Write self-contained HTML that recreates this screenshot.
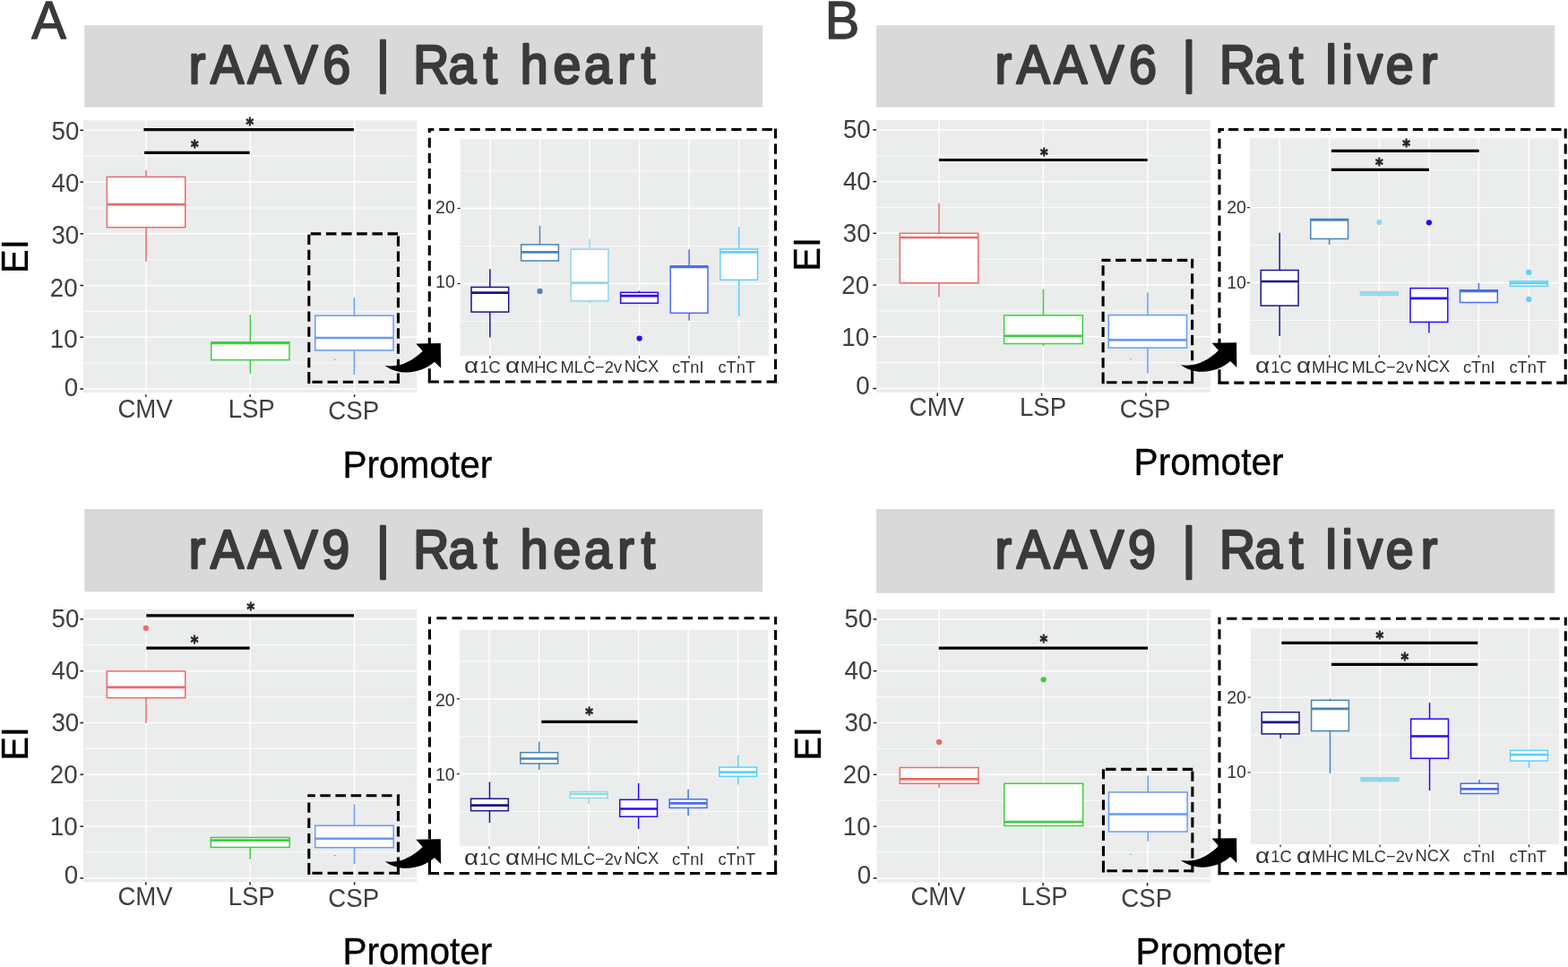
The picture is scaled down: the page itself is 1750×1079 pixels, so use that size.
<!DOCTYPE html>
<html lang="en"><head><meta charset="utf-8"><title>Promoter EI boxplots</title>
<style>html,body{margin:0;padding:0;background:#ffffff;}body{width:1750px;height:1079px;overflow:hidden;}svg{display:block;filter:blur(0.5px);}text{font-family:'Liberation Sans',Arial,Helvetica,sans-serif;}.st{font-family:'DejaVu Sans','Liberation Sans',sans-serif;font-weight:bold;}</style>
</head><body>
<svg width="1750" height="1079" viewBox="0 0 1750 1079" role="img" aria-label="Expression index boxplots by promoter for rAAV6 and rAAV9 in rat heart and liver">
<rect x="0" y="0" width="1750" height="1079" fill="#ffffff"/>
<text transform="translate(35.2 42.9) scale(0.964 1)" font-size="60" fill="#3a3a3a" stroke="#3a3a3a" stroke-width="1.4" stroke-linejoin="round">A</text>
<text transform="translate(920.8 42.9) scale(0.964 1)" font-size="60" fill="#3a3a3a" stroke="#3a3a3a" stroke-width="1.4" stroke-linejoin="round">B</text>
<rect x="94.2" y="28.3" width="757" height="91.3" fill="#d9d9d9"/>
<text transform="translate(0 92.8) scale(0.92 1)" x="229.22 255.4 300.62 345.24 391.53 426.53 456.44 474.44 501.46 544.11 586.31 604.31 631.35 671.1 708.63 749.22 777.88" y="0" font-size="60.4" fill="#3a3a3a" stroke="#3a3a3a" stroke-width="2.6" stroke-linejoin="round">rAAV6 <tspan font-size="62.3" dy="-1.6">|</tspan><tspan dy="1.6"> Rat heart</tspan></text>
<rect x="93.15" y="134.35" width="372.02" height="303.7" fill="#ebecec"/>
<line x1="93.15" y1="405.09" x2="465.17" y2="405.09" stroke="#fbfbfb" stroke-width="1.05"/>
<line x1="93.15" y1="347.37" x2="465.17" y2="347.37" stroke="#fbfbfb" stroke-width="1.05"/>
<line x1="93.15" y1="289.65" x2="465.17" y2="289.65" stroke="#fbfbfb" stroke-width="1.05"/>
<line x1="93.15" y1="231.93" x2="465.17" y2="231.93" stroke="#fbfbfb" stroke-width="1.05"/>
<line x1="93.15" y1="174.21" x2="465.17" y2="174.21" stroke="#fbfbfb" stroke-width="1.05"/>
<line x1="93.15" y1="433.95" x2="465.17" y2="433.95" stroke="#ffffff" stroke-width="1.45"/>
<line x1="93.15" y1="376.23" x2="465.17" y2="376.23" stroke="#ffffff" stroke-width="1.45"/>
<line x1="93.15" y1="318.51" x2="465.17" y2="318.51" stroke="#ffffff" stroke-width="1.45"/>
<line x1="93.15" y1="260.79" x2="465.17" y2="260.79" stroke="#ffffff" stroke-width="1.45"/>
<line x1="93.15" y1="203.07" x2="465.17" y2="203.07" stroke="#ffffff" stroke-width="1.45"/>
<line x1="93.15" y1="145.35" x2="465.17" y2="145.35" stroke="#ffffff" stroke-width="1.45"/>
<line x1="163.05" y1="134.35" x2="163.05" y2="438.05" stroke="#ffffff" stroke-width="1.45"/>
<line x1="279.28" y1="134.35" x2="279.28" y2="438.05" stroke="#ffffff" stroke-width="1.45"/>
<line x1="395.6" y1="134.35" x2="395.6" y2="438.05" stroke="#ffffff" stroke-width="1.45"/>
<line x1="89.35" y1="433.95" x2="93.15" y2="433.95" stroke="#222222" stroke-width="1.55"/>
<line x1="89.35" y1="376.23" x2="93.15" y2="376.23" stroke="#222222" stroke-width="1.55"/>
<line x1="89.35" y1="318.51" x2="93.15" y2="318.51" stroke="#222222" stroke-width="1.55"/>
<line x1="89.35" y1="260.79" x2="93.15" y2="260.79" stroke="#222222" stroke-width="1.55"/>
<line x1="89.35" y1="203.07" x2="93.15" y2="203.07" stroke="#222222" stroke-width="1.55"/>
<line x1="89.35" y1="145.35" x2="93.15" y2="145.35" stroke="#222222" stroke-width="1.55"/>
<line x1="160.4" y1="144.6" x2="394.85" y2="144.6" stroke="#000000" stroke-width="3.2"/>
<text transform="translate(274.38 145.19) scale(0.87 1)" class="st" font-size="19" fill="#262626" stroke="#262626" stroke-width="0.8">*</text>
<line x1="161.1" y1="170.35" x2="278.7" y2="170.35" stroke="#000000" stroke-width="3.2"/>
<text transform="translate(212.88 170.49) scale(0.87 1)" class="st" font-size="19" fill="#262626" stroke="#262626" stroke-width="0.8">*</text>
<line x1="163.05" y1="189.9" x2="163.05" y2="197.4" stroke="#ec6a6b" stroke-width="1.5"/>
<line x1="163.05" y1="253.7" x2="163.05" y2="291.7" stroke="#ec6a6b" stroke-width="1.5"/>
<rect x="119.35" y="197.4" width="87.4" height="56.3" fill="#ffffff" stroke="#ec6a6b" stroke-width="1.5"/>
<line x1="119.35" y1="228.2" x2="206.75" y2="228.2" stroke="#ec6a6b" stroke-width="2.7"/>
<line x1="279.35" y1="351.15" x2="279.35" y2="381.8" stroke="#3fce3f" stroke-width="1.5"/>
<line x1="279.35" y1="401.6" x2="279.35" y2="416.9" stroke="#3fce3f" stroke-width="1.5"/>
<rect x="235.75" y="381.8" width="87.2" height="19.8" fill="#ffffff" stroke="#3fce3f" stroke-width="1.5"/>
<line x1="235.75" y1="383" x2="322.95" y2="383" stroke="#3fce3f" stroke-width="2.7"/>
<line x1="395.4" y1="332.1" x2="395.4" y2="352.2" stroke="#6a9bf4" stroke-width="1.5"/>
<line x1="395.4" y1="390.85" x2="395.4" y2="418.3" stroke="#6a9bf4" stroke-width="1.5"/>
<rect x="351.75" y="352.2" width="87.3" height="38.65" fill="#ffffff" stroke="#6a9bf4" stroke-width="1.5"/>
<line x1="351.75" y1="377" x2="439.05" y2="377" stroke="#6a9bf4" stroke-width="2.7"/>
<rect x="513.64" y="155.3" width="344.3" height="241.47" fill="#ebecec"/>
<line x1="513.64" y1="190.53" x2="857.94" y2="190.53" stroke="#fbfbfb" stroke-width="1.05"/>
<line x1="513.64" y1="274.51" x2="857.94" y2="274.51" stroke="#fbfbfb" stroke-width="1.05"/>
<line x1="513.64" y1="358.49" x2="857.94" y2="358.49" stroke="#fbfbfb" stroke-width="1.05"/>
<line x1="513.64" y1="232.52" x2="857.94" y2="232.52" stroke="#ffffff" stroke-width="1.4"/>
<line x1="513.64" y1="316.5" x2="857.94" y2="316.5" stroke="#ffffff" stroke-width="1.4"/>
<line x1="547" y1="155.3" x2="547" y2="396.77" stroke="#ffffff" stroke-width="1.4"/>
<line x1="602.5" y1="155.3" x2="602.5" y2="396.77" stroke="#ffffff" stroke-width="1.4"/>
<line x1="658" y1="155.3" x2="658" y2="396.77" stroke="#ffffff" stroke-width="1.4"/>
<line x1="713.6" y1="155.3" x2="713.6" y2="396.77" stroke="#ffffff" stroke-width="1.4"/>
<line x1="769.13" y1="155.3" x2="769.13" y2="396.77" stroke="#ffffff" stroke-width="1.4"/>
<line x1="824.6" y1="155.3" x2="824.6" y2="396.77" stroke="#ffffff" stroke-width="1.4"/>
<line x1="510.44" y1="232.52" x2="513.64" y2="232.52" stroke="#222222" stroke-width="1.2"/>
<line x1="510.44" y1="316.5" x2="513.64" y2="316.5" stroke="#222222" stroke-width="1.2"/>
<line x1="547" y1="397.07" x2="547" y2="399.97" stroke="#222222" stroke-width="1.2"/>
<line x1="602.5" y1="397.07" x2="602.5" y2="399.97" stroke="#222222" stroke-width="1.2"/>
<line x1="658" y1="397.07" x2="658" y2="399.97" stroke="#222222" stroke-width="1.2"/>
<line x1="713.6" y1="397.07" x2="713.6" y2="399.97" stroke="#222222" stroke-width="1.2"/>
<line x1="769.13" y1="397.07" x2="769.13" y2="399.97" stroke="#222222" stroke-width="1.2"/>
<line x1="824.6" y1="397.07" x2="824.6" y2="399.97" stroke="#222222" stroke-width="1.2"/>
<text transform="translate(507.85 238.44) scale(1 1.03)" font-size="19.6" fill="#333333" text-anchor="end">20</text>
<text transform="translate(507.85 321.49) scale(1 1.03)" font-size="19.6" fill="#333333" text-anchor="end">10</text>
<line x1="546.85" y1="300.2" x2="546.85" y2="320.45" stroke="#1a148c" stroke-width="1.5"/>
<line x1="546.85" y1="348.1" x2="546.85" y2="376.5" stroke="#1a148c" stroke-width="1.5"/>
<rect x="526" y="320.45" width="41.7" height="27.65" fill="#ffffff" stroke="#1a148c" stroke-width="1.5"/>
<line x1="526" y1="326.7" x2="567.7" y2="326.7" stroke="#1a148c" stroke-width="2.7"/>
<line x1="602.5" y1="252" x2="602.5" y2="272.9" stroke="#4a84b4" stroke-width="1.5"/>
<rect x="581.65" y="272.9" width="41.7" height="18.1" fill="#ffffff" stroke="#4a84b4" stroke-width="1.5"/>
<line x1="581.65" y1="281.45" x2="623.35" y2="281.45" stroke="#4a84b4" stroke-width="2.7"/>
<line x1="658.05" y1="266.7" x2="658.05" y2="278.2" stroke="#90d8e8" stroke-width="1.5"/>
<line x1="658.05" y1="335.8" x2="658.05" y2="338.3" stroke="#90d8e8" stroke-width="1.5"/>
<rect x="637.2" y="278.2" width="41.7" height="57.6" fill="#ffffff" stroke="#90d8e8" stroke-width="1.5"/>
<line x1="637.2" y1="315.55" x2="678.9" y2="315.55" stroke="#90d8e8" stroke-width="2.7"/>
<line x1="713.5" y1="324.6" x2="713.5" y2="326.3" stroke="#2a08f8" stroke-width="1.5"/>
<rect x="692.65" y="326.3" width="41.7" height="12" fill="#ffffff" stroke="#2a08f8" stroke-width="1.5"/>
<line x1="692.65" y1="330.1" x2="734.35" y2="330.1" stroke="#2a08f8" stroke-width="2.7"/>
<line x1="769.15" y1="278.3" x2="769.15" y2="296.9" stroke="#4a6cf0" stroke-width="1.5"/>
<line x1="769.15" y1="349.3" x2="769.15" y2="357.8" stroke="#4a6cf0" stroke-width="1.5"/>
<rect x="748.3" y="296.9" width="41.7" height="52.4" fill="#ffffff" stroke="#4a6cf0" stroke-width="1.5"/>
<line x1="748.3" y1="297.9" x2="790" y2="297.9" stroke="#4a6cf0" stroke-width="2.7"/>
<line x1="824.7" y1="253" x2="824.7" y2="278" stroke="#5ed0fa" stroke-width="1.5"/>
<line x1="824.7" y1="312.3" x2="824.7" y2="353.1" stroke="#5ed0fa" stroke-width="1.5"/>
<rect x="803.85" y="278" width="41.7" height="34.3" fill="#ffffff" stroke="#5ed0fa" stroke-width="1.5"/>
<line x1="803.85" y1="281.3" x2="845.55" y2="281.3" stroke="#5ed0fa" stroke-width="2.7"/>
<circle cx="602.5" cy="324.9" r="3.15" fill="#4a84b4"/>
<circle cx="713.64" cy="377.6" r="3.15" fill="#2a08f8"/>
<path d="M346.7 260.9H358.3M363.86 260.9H375.46M381.02 260.9H392.62M398.18 260.9H409.78M415.34 260.9H426.94M432.5 260.9H444.1M348.4 426.3H359.9M365.56 426.3H377.06M382.72 426.3H394.22M399.88 426.3H411.38M417.04 426.3H428.54M434.2 426.3H445.7M344.8 261.7V272.9M344.8 278.86V290.06M344.8 296.02V307.22M344.8 313.18V324.38M344.8 330.34V341.54M344.8 347.5V358.7M344.8 364.66V375.86M344.8 381.82V393.02M344.8 398.98V410.18M344.8 416.14V427.34M444.45 263.4V274.7M444.45 280.56V291.86M444.45 297.72V309.02M444.45 314.88V326.18M444.45 332.04V343.34M444.45 349.2V360.5M444.45 366.36V377.66M444.45 383.52V394.82M444.45 400.68V411.98M444.45 417.84V427.9M434.65 426.3H446.05M344.8 415.1V427.9M444.45 416.6V427.9" fill="none" stroke="#000000" stroke-width="3.1"/>
<path d="M482.3 144.49H484.28M490.24 144.49H501.44M507.4 144.49H518.6M524.56 144.49H535.76M541.72 144.49H552.92M558.88 144.49H570.08M576.04 144.49H587.24M593.2 144.49H604.4M610.36 144.49H621.56M627.52 144.49H638.72M644.68 144.49H655.88M661.84 144.49H673.04M679 144.49H690.2M696.16 144.49H707.36M713.32 144.49H724.52M730.48 144.49H741.68M747.64 144.49H758.84M764.8 144.49H776M781.96 144.49H793.16M799.12 144.49H810.32M816.28 144.49H827.48M833.44 144.49H844.64M850.6 144.49H861.8M478.14 425.97H489.34M495.3 425.97H506.5M512.46 425.97H523.66M529.62 425.97H540.82M546.78 425.97H557.98M563.94 425.97H575.14M581.1 425.97H592.3M598.26 425.97H609.46M615.42 425.97H626.62M632.58 425.97H643.78M649.74 425.97H660.94M666.9 425.97H678.1M684.06 425.97H695.26M701.22 425.97H712.42M718.38 425.97H729.58M735.54 425.97H746.74M752.7 425.97H763.9M769.86 425.97H781.06M787.02 425.97H798.22M804.18 425.97H815.38M821.34 425.97H832.54M838.5 425.97H849.7M855.66 425.97H866.86M479.3 153.75V164.85M479.3 170.91V182.01M479.3 188.07V199.17M479.3 205.23V216.33M479.3 222.39V233.49M479.3 239.55V250.65M479.3 256.71V267.81M479.3 273.87V284.97M479.3 291.03V302.13M479.3 308.19V319.29M479.3 325.35V336.45M479.3 342.51V353.61M479.3 359.67V370.77M479.3 376.83V387.93M479.3 393.99V405.09M479.3 411.15V422.25M865.52 143.39V154.49M865.52 160.55V171.65M865.52 177.71V188.81M865.52 194.87V205.97M865.52 212.03V223.13M865.52 229.19V240.29M865.52 246.35V257.45M865.52 263.51V274.61M865.52 280.67V291.77M865.52 297.83V308.93M865.52 314.99V326.09M865.52 332.15V343.25M865.52 349.31V360.41M865.52 366.47V377.57M865.52 383.63V394.73M865.52 400.79V411.89M865.52 417.95V427.57M477.7 425.97H489.9M855.52 425.97H867.12M479.3 411.47V427.57M865.52 417.67V427.57M477.7 144.49H484.3M479.3 142.89V147.89" fill="none" stroke="#000000" stroke-width="3.1"/>
<path d="M429.5,407.9 C446.5,410.5 460.5,402.5 471.7,391.7 L464.3,383.4 L491.8,383.05 L492.1,410.7 L484.9,403.8 C472,415.5 448,421 429.5,407.9 Z" fill="#000000"/>
<rect x="373.1" y="400.8" width="1.3" height="0.8" fill="#555"/>
<text transform="translate(88.35 155.77) scale(1 1.06)" font-size="27.7" fill="#3f3f3f" text-anchor="end">50</text>
<text transform="translate(88.35 214.15) scale(1 1.06)" font-size="27.7" fill="#3f3f3f" text-anchor="end">40</text>
<text transform="translate(88.25 272.2) scale(1 1.06)" font-size="27.7" fill="#3f3f3f" text-anchor="end">30</text>
<text transform="translate(86.65 330.5) scale(1 1.06)" font-size="27.7" fill="#3f3f3f" text-anchor="end">20</text>
<text transform="translate(86.65 387.9) scale(1 1.06)" font-size="27.7" fill="#3f3f3f" text-anchor="end">10</text>
<text transform="translate(87.15 442.1) scale(1 1.06)" font-size="27.7" fill="#3f3f3f" text-anchor="end">0</text>
<line x1="162.8" y1="440.2" x2="162.8" y2="443.05" stroke="#222222" stroke-width="1.5"/>
<text transform="translate(162.05 466.2) scale(1 1.04)" font-size="27.6" fill="#3f3f3f" text-anchor="middle">CMV</text>
<line x1="279.1" y1="440.2" x2="279.1" y2="443.05" stroke="#222222" stroke-width="1.5"/>
<text transform="translate(280.7 466.4) scale(1 1.04)" font-size="27.6" fill="#3f3f3f" text-anchor="middle">LSP</text>
<line x1="395.6" y1="440.2" x2="395.6" y2="443.05" stroke="#222222" stroke-width="1.5"/>
<text transform="translate(394.7 467.7) scale(1 1.04)" font-size="27.6" fill="#3f3f3f" text-anchor="middle">CSP</text>
<text transform="translate(382.47 532.9) scale(1 1.035)" font-size="40.6" fill="#000000" stroke="#000000" stroke-width="0.35">Promoter</text>
<text transform="translate(31.25 304.9) rotate(-90) scale(0.945 1)" font-size="42.3" fill="#000000" stroke="#000000" stroke-width="0.3">EI</text>
<text y="415.5" font-size="18.3" fill="#333333"><tspan x="518.13" dy="0.5" font-size="23.8" textLength="16.16" lengthAdjust="spacingAndGlyphs">α</tspan><tspan x="535.37" dy="-0.5">1C</tspan></text>
<text y="415.5" font-size="18.3" fill="#333333"><tspan x="564.03" dy="0.5" font-size="23.8" textLength="16.16" lengthAdjust="spacingAndGlyphs">α</tspan><tspan x="580.95" dy="-0.5">MHC</tspan></text>
<text x="625.5" y="415.5" font-size="18.3" fill="#333333">MLC−2v</text>
<text x="696.65" y="414.8" font-size="18.3" fill="#333333">NCX</text>
<text x="749.98" y="415.5" font-size="18.3" fill="#333333">cTnI</text>
<text x="801.43" y="415.5" font-size="18.3" fill="#333333">cTnT</text>
<rect x="978.1" y="28.3" width="757.2" height="91.3" fill="#d9d9d9"/>
<text transform="translate(0 92.8) scale(0.92 1)" x="1207.16 1233.33 1278.55 1323.17 1369.46 1404.46 1434.38 1452.38 1479.39 1522.05 1564.24 1582.24 1608.24 1627.64 1646.91 1681.37 1723.68" y="0" font-size="60.4" fill="#3a3a3a" stroke="#3a3a3a" stroke-width="2.6" stroke-linejoin="round">rAAV6 <tspan font-size="62.3" dy="-1.6">|</tspan><tspan dy="1.6"> Rat liver</tspan></text>
<rect x="978.12" y="134.14" width="372.88" height="303.89" fill="#ebecec"/>
<line x1="978.12" y1="404.64" x2="1351" y2="404.64" stroke="#fbfbfb" stroke-width="1.05"/>
<line x1="978.12" y1="346.92" x2="1351" y2="346.92" stroke="#fbfbfb" stroke-width="1.05"/>
<line x1="978.12" y1="289.2" x2="1351" y2="289.2" stroke="#fbfbfb" stroke-width="1.05"/>
<line x1="978.12" y1="231.48" x2="1351" y2="231.48" stroke="#fbfbfb" stroke-width="1.05"/>
<line x1="978.12" y1="173.76" x2="1351" y2="173.76" stroke="#fbfbfb" stroke-width="1.05"/>
<line x1="978.12" y1="433.5" x2="1351" y2="433.5" stroke="#ffffff" stroke-width="1.45"/>
<line x1="978.12" y1="375.78" x2="1351" y2="375.78" stroke="#ffffff" stroke-width="1.45"/>
<line x1="978.12" y1="318.06" x2="1351" y2="318.06" stroke="#ffffff" stroke-width="1.45"/>
<line x1="978.12" y1="260.34" x2="1351" y2="260.34" stroke="#ffffff" stroke-width="1.45"/>
<line x1="978.12" y1="202.62" x2="1351" y2="202.62" stroke="#ffffff" stroke-width="1.45"/>
<line x1="978.12" y1="144.9" x2="1351" y2="144.9" stroke="#ffffff" stroke-width="1.45"/>
<line x1="1047.9" y1="134.14" x2="1047.9" y2="438.03" stroke="#ffffff" stroke-width="1.45"/>
<line x1="1164.4" y1="134.14" x2="1164.4" y2="438.03" stroke="#ffffff" stroke-width="1.45"/>
<line x1="1280.7" y1="134.14" x2="1280.7" y2="438.03" stroke="#ffffff" stroke-width="1.45"/>
<line x1="974.32" y1="433.5" x2="978.12" y2="433.5" stroke="#222222" stroke-width="1.55"/>
<line x1="974.32" y1="375.78" x2="978.12" y2="375.78" stroke="#222222" stroke-width="1.55"/>
<line x1="974.32" y1="318.06" x2="978.12" y2="318.06" stroke="#222222" stroke-width="1.55"/>
<line x1="974.32" y1="260.34" x2="978.12" y2="260.34" stroke="#222222" stroke-width="1.55"/>
<line x1="974.32" y1="202.62" x2="978.12" y2="202.62" stroke="#222222" stroke-width="1.55"/>
<line x1="974.32" y1="144.9" x2="978.12" y2="144.9" stroke="#222222" stroke-width="1.55"/>
<line x1="1047.9" y1="178.5" x2="1280.7" y2="178.5" stroke="#000000" stroke-width="3.2"/>
<text transform="translate(1160.98 179.39) scale(0.87 1)" class="st" font-size="19" fill="#262626" stroke="#262626" stroke-width="0.8">*</text>
<line x1="1048.05" y1="226.7" x2="1048.05" y2="260.3" stroke="#ec6a6b" stroke-width="1.5"/>
<line x1="1048.05" y1="315.8" x2="1048.05" y2="331.6" stroke="#ec6a6b" stroke-width="1.5"/>
<rect x="1004.3" y="260.3" width="87.5" height="55.5" fill="#ffffff" stroke="#ec6a6b" stroke-width="1.5"/>
<line x1="1004.3" y1="265" x2="1091.8" y2="265" stroke="#ec6a6b" stroke-width="2.7"/>
<line x1="1164.45" y1="322.7" x2="1164.45" y2="351.8" stroke="#3fce3f" stroke-width="1.5"/>
<line x1="1164.45" y1="383.5" x2="1164.45" y2="386.3" stroke="#3fce3f" stroke-width="1.5"/>
<rect x="1120.6" y="351.8" width="87.7" height="31.7" fill="#ffffff" stroke="#3fce3f" stroke-width="1.5"/>
<line x1="1120.6" y1="374.9" x2="1208.3" y2="374.9" stroke="#3fce3f" stroke-width="2.7"/>
<line x1="1280.88" y1="326.3" x2="1280.88" y2="351.6" stroke="#6a9bf4" stroke-width="1.5"/>
<line x1="1280.88" y1="388.07" x2="1280.88" y2="416.8" stroke="#6a9bf4" stroke-width="1.5"/>
<rect x="1237.26" y="351.6" width="87.24" height="36.47" fill="#ffffff" stroke="#6a9bf4" stroke-width="1.5"/>
<line x1="1237.26" y1="379.4" x2="1324.5" y2="379.4" stroke="#6a9bf4" stroke-width="2.7"/>
<rect x="1395" y="154.3" width="344.75" height="241.58" fill="#ebecec"/>
<line x1="1395" y1="189.69" x2="1739.75" y2="189.69" stroke="#fbfbfb" stroke-width="1.05"/>
<line x1="1395" y1="273.57" x2="1739.75" y2="273.57" stroke="#fbfbfb" stroke-width="1.05"/>
<line x1="1395" y1="357.46" x2="1739.75" y2="357.46" stroke="#fbfbfb" stroke-width="1.05"/>
<line x1="1395" y1="231.63" x2="1739.75" y2="231.63" stroke="#ffffff" stroke-width="1.4"/>
<line x1="1395" y1="315.52" x2="1739.75" y2="315.52" stroke="#ffffff" stroke-width="1.4"/>
<line x1="1428.25" y1="154.3" x2="1428.25" y2="395.88" stroke="#ffffff" stroke-width="1.4"/>
<line x1="1483.8" y1="154.3" x2="1483.8" y2="395.88" stroke="#ffffff" stroke-width="1.4"/>
<line x1="1539.35" y1="154.3" x2="1539.35" y2="395.88" stroke="#ffffff" stroke-width="1.4"/>
<line x1="1594.9" y1="154.3" x2="1594.9" y2="395.88" stroke="#ffffff" stroke-width="1.4"/>
<line x1="1650.3" y1="154.3" x2="1650.3" y2="395.88" stroke="#ffffff" stroke-width="1.4"/>
<line x1="1706.3" y1="154.3" x2="1706.3" y2="395.88" stroke="#ffffff" stroke-width="1.4"/>
<line x1="1391.8" y1="231.63" x2="1395" y2="231.63" stroke="#222222" stroke-width="1.2"/>
<line x1="1391.8" y1="315.52" x2="1395" y2="315.52" stroke="#222222" stroke-width="1.2"/>
<line x1="1428.25" y1="396.18" x2="1428.25" y2="399.08" stroke="#222222" stroke-width="1.2"/>
<line x1="1483.8" y1="396.18" x2="1483.8" y2="399.08" stroke="#222222" stroke-width="1.2"/>
<line x1="1539.35" y1="396.18" x2="1539.35" y2="399.08" stroke="#222222" stroke-width="1.2"/>
<line x1="1594.9" y1="396.18" x2="1594.9" y2="399.08" stroke="#222222" stroke-width="1.2"/>
<line x1="1650.3" y1="396.18" x2="1650.3" y2="399.08" stroke="#222222" stroke-width="1.2"/>
<line x1="1706.3" y1="396.18" x2="1706.3" y2="399.08" stroke="#222222" stroke-width="1.2"/>
<text transform="translate(1390.95 238.44) scale(1 1.03)" font-size="19.6" fill="#333333" text-anchor="end">20</text>
<text transform="translate(1390.95 321.94) scale(1 1.03)" font-size="19.6" fill="#333333" text-anchor="end">10</text>
<line x1="1485.9" y1="168.3" x2="1650.7" y2="168.3" stroke="#000000" stroke-width="3.2"/>
<text transform="translate(1565.18 169.19) scale(0.87 1)" class="st" font-size="19" fill="#262626" stroke="#262626" stroke-width="0.8">*</text>
<line x1="1485.9" y1="189.4" x2="1594.9" y2="189.4" stroke="#000000" stroke-width="3.2"/>
<text transform="translate(1535.08 190.49) scale(0.87 1)" class="st" font-size="19" fill="#262626" stroke="#262626" stroke-width="0.8">*</text>
<line x1="1428.15" y1="259.7" x2="1428.15" y2="301.5" stroke="#1a148c" stroke-width="1.5"/>
<line x1="1428.15" y1="341.1" x2="1428.15" y2="375.1" stroke="#1a148c" stroke-width="1.5"/>
<rect x="1407.25" y="301.5" width="41.8" height="39.6" fill="#ffffff" stroke="#1a148c" stroke-width="1.5"/>
<line x1="1407.25" y1="314" x2="1449.05" y2="314" stroke="#1a148c" stroke-width="2.7"/>
<line x1="1483.65" y1="266.5" x2="1483.65" y2="272.9" stroke="#4a84b4" stroke-width="1.5"/>
<rect x="1462.75" y="244.5" width="41.8" height="22" fill="#ffffff" stroke="#4a84b4" stroke-width="1.5"/>
<line x1="1462.75" y1="245.3" x2="1504.55" y2="245.3" stroke="#4a84b4" stroke-width="2.7"/>
<line x1="1539.3" y1="329.3" x2="1539.3" y2="331.4" stroke="#90d8e8" stroke-width="1.5"/>
<rect x="1518.4" y="325.7" width="41.8" height="3.6" fill="#ffffff" stroke="#90d8e8" stroke-width="1.5"/>
<line x1="1518.4" y1="327.5" x2="1560.2" y2="327.5" stroke="#90d8e8" stroke-width="2.7"/>
<line x1="1594.9" y1="359.4" x2="1594.9" y2="371.5" stroke="#2a08f8" stroke-width="1.5"/>
<rect x="1574" y="321.6" width="41.8" height="37.8" fill="#ffffff" stroke="#2a08f8" stroke-width="1.5"/>
<line x1="1574" y1="332.9" x2="1615.8" y2="332.9" stroke="#2a08f8" stroke-width="2.7"/>
<line x1="1650.4" y1="315.9" x2="1650.4" y2="323.7" stroke="#4a6cf0" stroke-width="1.5"/>
<rect x="1629.5" y="323.7" width="41.8" height="13.8" fill="#ffffff" stroke="#4a6cf0" stroke-width="1.5"/>
<line x1="1629.5" y1="325" x2="1671.3" y2="325" stroke="#4a6cf0" stroke-width="2.7"/>
<rect x="1685.4" y="313.9" width="41.8" height="5.4" fill="#ffffff" stroke="#5ed0fa" stroke-width="1.5"/>
<line x1="1685.4" y1="316" x2="1727.2" y2="316" stroke="#5ed0fa" stroke-width="2.7"/>
<circle cx="1539.4" cy="247.8" r="3.15" fill="#90d8e8"/>
<circle cx="1594.9" cy="248.3" r="3.15" fill="#2a08f8"/>
<circle cx="1706.3" cy="303.9" r="3.15" fill="#5ed0fa"/>
<circle cx="1706.3" cy="333.9" r="3.15" fill="#5ed0fa"/>
<path d="M1229.5 290.35H1239.5M1245.06 290.35H1256.66M1262.22 290.35H1273.82M1279.38 290.35H1290.98M1296.54 290.35H1308.14M1313.7 290.35H1325.3M1330.86 290.35H1332.22M1235 426.7H1246.5M1252.16 426.7H1263.66M1269.32 426.7H1280.82M1286.48 426.7H1297.98M1303.64 426.7H1315.14M1320.8 426.7H1332.22M1231.1 296.25V307.45M1231.1 313.41V324.61M1231.1 330.57V341.77M1231.1 347.73V358.93M1231.1 364.89V376.09M1231.1 382.05V393.25M1231.1 399.21V410.41M1231.1 416.37V427.57M1330.62 288.75V299.35M1330.62 305.21V316.51M1330.62 322.37V333.67M1330.62 339.53V350.83M1330.62 356.69V367.99M1330.62 373.85V385.15M1330.62 391.01V402.31M1330.62 408.17V419.47M1330.62 425.33V428.3M1320.82 426.7H1332.22M1231.1 415.5V428.3M1330.62 417V428.3" fill="none" stroke="#000000" stroke-width="3.1"/>
<path d="M1363.95 144.49H1365.02M1370.98 144.49H1382.18M1388.14 144.49H1399.34M1405.3 144.49H1416.5M1422.46 144.49H1433.66M1439.62 144.49H1450.82M1456.78 144.49H1467.98M1473.94 144.49H1485.14M1491.1 144.49H1502.3M1508.26 144.49H1519.46M1525.42 144.49H1536.62M1542.58 144.49H1553.78M1559.74 144.49H1570.94M1576.9 144.49H1588.1M1594.06 144.49H1605.26M1611.22 144.49H1622.42M1628.38 144.49H1639.58M1645.54 144.49H1656.74M1662.7 144.49H1673.9M1679.86 144.49H1691.06M1697.02 144.49H1708.22M1714.18 144.49H1725.38M1731.34 144.49H1742.54M1360.15 427.08H1371.35M1377.31 427.08H1388.51M1394.47 427.08H1405.67M1411.63 427.08H1422.83M1428.79 427.08H1439.99M1445.95 427.08H1457.15M1463.11 427.08H1474.31M1480.27 427.08H1491.47M1497.43 427.08H1508.63M1514.59 427.08H1525.79M1531.75 427.08H1542.95M1548.91 427.08H1560.11M1566.07 427.08H1577.27M1583.23 427.08H1594.43M1600.39 427.08H1611.59M1617.55 427.08H1628.75M1634.71 427.08H1645.91M1651.87 427.08H1663.07M1669.03 427.08H1680.23M1686.19 427.08H1697.39M1703.35 427.08H1714.55M1720.51 427.08H1731.71M1737.67 427.08H1748.82M1360.95 148.49V148.68M1360.95 154.74V165.84M1360.95 171.9V183M1360.95 189.06V200.16M1360.95 206.22V217.32M1360.95 223.38V234.48M1360.95 240.54V251.64M1360.95 257.7V268.8M1360.95 274.86V285.96M1360.95 292.02V303.12M1360.95 309.18V320.28M1360.95 326.34V337.44M1360.95 343.5V354.6M1360.95 360.66V371.76M1360.95 377.82V388.92M1360.95 394.98V406.08M1360.95 412.14V423.24M1747.22 143.39V154.49M1747.22 160.55V171.65M1747.22 177.71V188.81M1747.22 194.87V205.97M1747.22 212.03V223.13M1747.22 229.19V240.29M1747.22 246.35V257.45M1747.22 263.51V274.61M1747.22 280.67V291.77M1747.22 297.83V308.93M1747.22 314.99V326.09M1747.22 332.15V343.25M1747.22 349.31V360.41M1747.22 366.47V377.57M1747.22 383.63V394.73M1747.22 400.79V411.89M1747.22 417.95V428.68M1359.35 427.08H1371.55M1737.22 427.08H1748.82M1360.95 412.58V428.68M1747.22 418.78V428.68M1359.35 144.49H1365.95M1360.95 142.89V147.89" fill="none" stroke="#000000" stroke-width="3.1"/>
<path d="M1317.75,407.2 C1334.75,409.8 1348.75,401.8 1359.95,391 L1352.55,382.7 L1380.05,382.35 L1380.35,410 L1373.15,403.1 C1360.25,414.8 1336.25,420.3 1317.75,407.2 Z" fill="#000000"/>
<rect x="1261.3" y="400.0" width="1.3" height="0.8" fill="#555"/>
<text transform="translate(971.75 153.57) scale(1 1.06)" font-size="27.7" fill="#3f3f3f" text-anchor="end">50</text>
<text transform="translate(971.75 211.95) scale(1 1.06)" font-size="27.7" fill="#3f3f3f" text-anchor="end">40</text>
<text transform="translate(971.65 270) scale(1 1.06)" font-size="27.7" fill="#3f3f3f" text-anchor="end">30</text>
<text transform="translate(970.05 328.3) scale(1 1.06)" font-size="27.7" fill="#3f3f3f" text-anchor="end">20</text>
<text transform="translate(970.05 385.7) scale(1 1.06)" font-size="27.7" fill="#3f3f3f" text-anchor="end">10</text>
<text transform="translate(970.55 439.9) scale(1 1.06)" font-size="27.7" fill="#3f3f3f" text-anchor="end">0</text>
<line x1="1046.2" y1="438.6" x2="1046.2" y2="441.9" stroke="#222222" stroke-width="1.5"/>
<text transform="translate(1045.45 464) scale(1 1.04)" font-size="27.6" fill="#3f3f3f" text-anchor="middle">CMV</text>
<line x1="1162.5" y1="438.6" x2="1162.5" y2="441.9" stroke="#222222" stroke-width="1.5"/>
<text transform="translate(1164.1 464.2) scale(1 1.04)" font-size="27.6" fill="#3f3f3f" text-anchor="middle">LSP</text>
<line x1="1279" y1="438.6" x2="1279" y2="441.9" stroke="#222222" stroke-width="1.5"/>
<text transform="translate(1278.1 465.5) scale(1 1.04)" font-size="27.6" fill="#3f3f3f" text-anchor="middle">CSP</text>
<text transform="translate(1265.62 530.4) scale(1 1.035)" font-size="40.6" fill="#000000" stroke="#000000" stroke-width="0.35">Promoter</text>
<text transform="translate(914.65 302.7) rotate(-90) scale(0.945 1)" font-size="42.3" fill="#000000" stroke="#000000" stroke-width="0.3">EI</text>
<text y="415.5" font-size="18.3" fill="#333333"><tspan x="1401.1" dy="0.5" font-size="23.8" textLength="16.16" lengthAdjust="spacingAndGlyphs">α</tspan><tspan x="1418.34" dy="-0.5">1C</tspan></text>
<text y="415.5" font-size="18.3" fill="#333333"><tspan x="1447" dy="0.5" font-size="23.8" textLength="16.16" lengthAdjust="spacingAndGlyphs">α</tspan><tspan x="1463.92" dy="-0.5">MHC</tspan></text>
<text x="1508.47" y="415.5" font-size="18.3" fill="#333333">MLC−2v</text>
<text x="1579.62" y="414.8" font-size="18.3" fill="#333333">NCX</text>
<text x="1632.95" y="415.5" font-size="18.3" fill="#333333">cTnI</text>
<text x="1684.4" y="415.5" font-size="18.3" fill="#333333">cTnT</text>
<rect x="94.2" y="568" width="757" height="92.3" fill="#d9d9d9"/>
<text transform="translate(0 634.3) scale(0.92 1)" x="229.22 255.4 300.62 345.24 390.44 425.44 456.44 474.44 501.46 544.11 586.31 604.31 631.35 671.1 708.63 749.22 777.88" y="0" font-size="60.4" fill="#3a3a3a" stroke="#3a3a3a" stroke-width="2.6" stroke-linejoin="round">rAAV9 <tspan font-size="62.3" dy="-1.6">|</tspan><tspan dy="1.6"> Rat heart</tspan></text>
<rect x="93.12" y="680.03" width="372.08" height="304.31" fill="#ebecec"/>
<line x1="93.12" y1="950.98" x2="465.2" y2="950.98" stroke="#fbfbfb" stroke-width="1.05"/>
<line x1="93.12" y1="893.18" x2="465.2" y2="893.18" stroke="#fbfbfb" stroke-width="1.05"/>
<line x1="93.12" y1="835.38" x2="465.2" y2="835.38" stroke="#fbfbfb" stroke-width="1.05"/>
<line x1="93.12" y1="777.58" x2="465.2" y2="777.58" stroke="#fbfbfb" stroke-width="1.05"/>
<line x1="93.12" y1="719.78" x2="465.2" y2="719.78" stroke="#fbfbfb" stroke-width="1.05"/>
<line x1="93.12" y1="979.88" x2="465.2" y2="979.88" stroke="#ffffff" stroke-width="1.45"/>
<line x1="93.12" y1="922.08" x2="465.2" y2="922.08" stroke="#ffffff" stroke-width="1.45"/>
<line x1="93.12" y1="864.28" x2="465.2" y2="864.28" stroke="#ffffff" stroke-width="1.45"/>
<line x1="93.12" y1="806.48" x2="465.2" y2="806.48" stroke="#ffffff" stroke-width="1.45"/>
<line x1="93.12" y1="748.68" x2="465.2" y2="748.68" stroke="#ffffff" stroke-width="1.45"/>
<line x1="93.12" y1="690.88" x2="465.2" y2="690.88" stroke="#ffffff" stroke-width="1.45"/>
<line x1="162.9" y1="680.03" x2="162.9" y2="984.34" stroke="#ffffff" stroke-width="1.45"/>
<line x1="279.2" y1="680.03" x2="279.2" y2="984.34" stroke="#ffffff" stroke-width="1.45"/>
<line x1="395.5" y1="680.03" x2="395.5" y2="984.34" stroke="#ffffff" stroke-width="1.45"/>
<line x1="89.32" y1="979.88" x2="93.12" y2="979.88" stroke="#222222" stroke-width="1.55"/>
<line x1="89.32" y1="922.08" x2="93.12" y2="922.08" stroke="#222222" stroke-width="1.55"/>
<line x1="89.32" y1="864.28" x2="93.12" y2="864.28" stroke="#222222" stroke-width="1.55"/>
<line x1="89.32" y1="806.48" x2="93.12" y2="806.48" stroke="#222222" stroke-width="1.55"/>
<line x1="89.32" y1="748.68" x2="93.12" y2="748.68" stroke="#222222" stroke-width="1.55"/>
<line x1="89.32" y1="690.88" x2="93.12" y2="690.88" stroke="#222222" stroke-width="1.55"/>
<line x1="163.3" y1="686.94" x2="395" y2="686.94" stroke="#000000" stroke-width="3.2"/>
<text transform="translate(275.58 686.19) scale(0.87 1)" class="st" font-size="19" fill="#262626" stroke="#262626" stroke-width="0.8">*</text>
<line x1="163.3" y1="723.04" x2="278.7" y2="723.04" stroke="#000000" stroke-width="3.2"/>
<text transform="translate(212.83 723.14) scale(0.87 1)" class="st" font-size="19" fill="#262626" stroke="#262626" stroke-width="0.8">*</text>
<line x1="163.05" y1="778.65" x2="163.05" y2="806.9" stroke="#ec6a6b" stroke-width="1.5"/>
<rect x="119.3" y="748.9" width="87.5" height="29.75" fill="#ffffff" stroke="#ec6a6b" stroke-width="1.5"/>
<line x1="119.3" y1="766.95" x2="206.8" y2="766.95" stroke="#ec6a6b" stroke-width="2.7"/>
<circle cx="162.9" cy="700.87" r="3.15" fill="#ec6a6b"/>
<line x1="279.25" y1="945.4" x2="279.25" y2="958.7" stroke="#3fce3f" stroke-width="1.5"/>
<rect x="235.35" y="934.5" width="87.8" height="10.9" fill="#ffffff" stroke="#3fce3f" stroke-width="1.5"/>
<line x1="235.35" y1="937.6" x2="323.15" y2="937.6" stroke="#3fce3f" stroke-width="2.7"/>
<line x1="395.47" y1="897.3" x2="395.47" y2="921.24" stroke="#6a9bf4" stroke-width="1.5"/>
<line x1="395.47" y1="945.76" x2="395.47" y2="964.15" stroke="#6a9bf4" stroke-width="1.5"/>
<rect x="351.74" y="921.24" width="87.46" height="24.52" fill="#ffffff" stroke="#6a9bf4" stroke-width="1.5"/>
<line x1="351.74" y1="935.73" x2="439.2" y2="935.73" stroke="#6a9bf4" stroke-width="2.7"/>
<rect x="512.95" y="702.86" width="344.25" height="241.14" fill="#ebecec"/>
<line x1="512.95" y1="737.85" x2="857.2" y2="737.85" stroke="#fbfbfb" stroke-width="1.05"/>
<line x1="512.95" y1="821.65" x2="857.2" y2="821.65" stroke="#fbfbfb" stroke-width="1.05"/>
<line x1="512.95" y1="905.45" x2="857.2" y2="905.45" stroke="#fbfbfb" stroke-width="1.05"/>
<line x1="512.95" y1="779.75" x2="857.2" y2="779.75" stroke="#ffffff" stroke-width="1.4"/>
<line x1="512.95" y1="863.55" x2="857.2" y2="863.55" stroke="#ffffff" stroke-width="1.4"/>
<line x1="546" y1="702.86" x2="546" y2="944" stroke="#ffffff" stroke-width="1.4"/>
<line x1="601.5" y1="702.86" x2="601.5" y2="944" stroke="#ffffff" stroke-width="1.4"/>
<line x1="657" y1="702.86" x2="657" y2="944" stroke="#ffffff" stroke-width="1.4"/>
<line x1="712.6" y1="702.86" x2="712.6" y2="944" stroke="#ffffff" stroke-width="1.4"/>
<line x1="768.2" y1="702.86" x2="768.2" y2="944" stroke="#ffffff" stroke-width="1.4"/>
<line x1="823.5" y1="702.86" x2="823.5" y2="944" stroke="#ffffff" stroke-width="1.4"/>
<line x1="509.75" y1="779.75" x2="512.95" y2="779.75" stroke="#222222" stroke-width="1.2"/>
<line x1="509.75" y1="863.55" x2="512.95" y2="863.55" stroke="#222222" stroke-width="1.2"/>
<line x1="546" y1="944.3" x2="546" y2="947.2" stroke="#222222" stroke-width="1.2"/>
<line x1="601.5" y1="944.3" x2="601.5" y2="947.2" stroke="#222222" stroke-width="1.2"/>
<line x1="657" y1="944.3" x2="657" y2="947.2" stroke="#222222" stroke-width="1.2"/>
<line x1="712.6" y1="944.3" x2="712.6" y2="947.2" stroke="#222222" stroke-width="1.2"/>
<line x1="768.2" y1="944.3" x2="768.2" y2="947.2" stroke="#222222" stroke-width="1.2"/>
<line x1="823.5" y1="944.3" x2="823.5" y2="947.2" stroke="#222222" stroke-width="1.2"/>
<text transform="translate(507.75 787.59) scale(1 1.03)" font-size="19.6" fill="#333333" text-anchor="end">20</text>
<text transform="translate(507.75 870.99) scale(1 1.03)" font-size="19.6" fill="#333333" text-anchor="end">10</text>
<line x1="604.3" y1="805.4" x2="711.6" y2="805.4" stroke="#000000" stroke-width="3.2"/>
<text transform="translate(653.18 803.19) scale(0.87 1)" class="st" font-size="19" fill="#262626" stroke="#262626" stroke-width="0.8">*</text>
<line x1="546.45" y1="872.6" x2="546.45" y2="891.2" stroke="#1a148c" stroke-width="1.5"/>
<line x1="546.45" y1="904.7" x2="546.45" y2="918.1" stroke="#1a148c" stroke-width="1.5"/>
<rect x="525.55" y="891.2" width="41.8" height="13.5" fill="#ffffff" stroke="#1a148c" stroke-width="1.5"/>
<line x1="525.55" y1="898.6" x2="567.35" y2="898.6" stroke="#1a148c" stroke-width="2.7"/>
<line x1="601.7" y1="827.6" x2="601.7" y2="839.7" stroke="#4a84b4" stroke-width="1.5"/>
<line x1="601.7" y1="852" x2="601.7" y2="858.9" stroke="#4a84b4" stroke-width="1.5"/>
<rect x="580.8" y="839.7" width="41.8" height="12.3" fill="#ffffff" stroke="#4a84b4" stroke-width="1.5"/>
<line x1="580.8" y1="846.5" x2="622.6" y2="846.5" stroke="#4a84b4" stroke-width="2.7"/>
<line x1="657.25" y1="890.4" x2="657.25" y2="897.3" stroke="#90d8e8" stroke-width="1.5"/>
<rect x="636.35" y="883.5" width="41.8" height="6.9" fill="#ffffff" stroke="#90d8e8" stroke-width="1.5"/>
<line x1="636.35" y1="886" x2="678.15" y2="886" stroke="#90d8e8" stroke-width="2.7"/>
<line x1="712.65" y1="873.9" x2="712.65" y2="892.3" stroke="#2a08f8" stroke-width="1.5"/>
<line x1="712.65" y1="911.2" x2="712.65" y2="925" stroke="#2a08f8" stroke-width="1.5"/>
<rect x="691.75" y="892.3" width="41.8" height="18.9" fill="#ffffff" stroke="#2a08f8" stroke-width="1.5"/>
<line x1="691.75" y1="902.5" x2="733.55" y2="902.5" stroke="#2a08f8" stroke-width="2.7"/>
<line x1="768.1" y1="881.1" x2="768.1" y2="891.8" stroke="#4a6cf0" stroke-width="1.5"/>
<line x1="768.1" y1="901.4" x2="768.1" y2="910.4" stroke="#4a6cf0" stroke-width="1.5"/>
<rect x="747.2" y="891.8" width="41.8" height="9.6" fill="#ffffff" stroke="#4a6cf0" stroke-width="1.5"/>
<line x1="747.2" y1="896.4" x2="789" y2="896.4" stroke="#4a6cf0" stroke-width="2.7"/>
<line x1="823.75" y1="842.7" x2="823.75" y2="856.1" stroke="#5ed0fa" stroke-width="1.5"/>
<line x1="823.75" y1="866.3" x2="823.75" y2="875.6" stroke="#5ed0fa" stroke-width="1.5"/>
<rect x="802.85" y="856.1" width="41.8" height="10.2" fill="#ffffff" stroke="#5ed0fa" stroke-width="1.5"/>
<line x1="802.85" y1="861.6" x2="844.65" y2="861.6" stroke="#5ed0fa" stroke-width="2.7"/>
<path d="M343.2 887.8H351.74M357.3 887.8H368.9M374.46 887.8H386.06M391.62 887.8H403.22M408.78 887.8H420.38M425.94 887.8H437.54M443.1 887.8H446.05M348.4 974.3H359.9M365.56 974.3H377.06M382.72 974.3H394.22M399.88 974.3H411.38M417.04 974.3H428.54M434.2 974.3H445.7M344.8 895.6V906.8M344.8 912.76V923.96M344.8 929.92V941.12M344.8 947.08V958.28M344.8 964.24V975.44M444.45 887.9V899.2M444.45 905.06V916.36M444.45 922.22V933.52M444.45 939.38V950.68M444.45 956.54V967.84M444.45 973.7V975.9M434.65 974.3H446.05M344.8 963.1V975.9M444.45 964.6V975.9" fill="none" stroke="#000000" stroke-width="3.1"/>
<path d="M487.29 689.82H498.49M504.45 689.82H515.65M521.61 689.82H532.81M538.77 689.82H549.97M555.93 689.82H567.13M573.09 689.82H584.29M590.25 689.82H601.45M607.41 689.82H618.61M624.57 689.82H635.77M641.73 689.82H652.93M658.89 689.82H670.09M676.05 689.82H687.25M693.21 689.82H704.41M710.37 689.82H721.57M727.53 689.82H738.73M744.69 689.82H755.89M761.85 689.82H773.05M779.01 689.82H790.21M796.17 689.82H807.37M813.33 689.82H824.53M830.49 689.82H841.69M847.65 689.82H858.85M478.29 974.5H489.49M495.45 974.5H506.65M512.61 974.5H523.81M529.77 974.5H540.97M546.93 974.5H558.13M564.09 974.5H575.29M581.25 974.5H592.45M598.41 974.5H609.61M615.57 974.5H626.77M632.73 974.5H643.93M649.89 974.5H661.09M667.05 974.5H678.25M684.21 974.5H695.41M701.37 974.5H712.57M718.53 974.5H729.73M735.69 974.5H746.89M752.85 974.5H764.05M770.01 974.5H781.21M787.17 974.5H798.37M804.33 974.5H815.53M821.49 974.5H832.69M838.65 974.5H849.85M855.81 974.5H867.01M479.45 693.82V696.26M479.45 702.32V713.42M479.45 719.48V730.58M479.45 736.64V747.74M479.45 753.8V764.9M479.45 770.96V782.06M479.45 788.12V799.22M479.45 805.28V816.38M479.45 822.44V833.54M479.45 839.6V850.7M479.45 856.76V867.86M479.45 873.92V885.02M479.45 891.08V902.18M479.45 908.24V919.34M479.45 925.4V936.5M479.45 942.56V953.66M479.45 959.72V970.82M865.6 688.22V696.82M865.6 702.88V713.98M865.6 720.04V731.14M865.6 737.2V748.3M865.6 754.36V765.46M865.6 771.52V782.62M865.6 788.68V799.78M865.6 805.84V816.94M865.6 823V834.1M865.6 840.16V851.26M865.6 857.32V868.42M865.6 874.48V885.58M865.6 891.64V902.74M865.6 908.8V919.9M865.6 925.96V937.06M865.6 943.12V954.22M865.6 960.28V971.38M477.85 974.5H490.05M855.6 974.5H867.2M479.45 960V976.1M865.6 966.2V976.1M479.45 688.22V696.02" fill="none" stroke="#000000" stroke-width="3.1"/>
<path d="M429.5,961.15 C446.5,963.75 460.5,955.75 471.7,944.95 L464.3,936.65 L491.8,936.3 L492.1,963.95 L484.9,957.05 C472,968.75 448,974.25 429.5,961.15 Z" fill="#000000"/>
<rect x="373.1" y="954.0" width="1.3" height="0.8" fill="#555"/>
<text transform="translate(88.35 699.67) scale(1 1.06)" font-size="27.7" fill="#3f3f3f" text-anchor="end">50</text>
<text transform="translate(88.35 758.05) scale(1 1.06)" font-size="27.7" fill="#3f3f3f" text-anchor="end">40</text>
<text transform="translate(88.25 816.1) scale(1 1.06)" font-size="27.7" fill="#3f3f3f" text-anchor="end">30</text>
<text transform="translate(86.65 874.4) scale(1 1.06)" font-size="27.7" fill="#3f3f3f" text-anchor="end">20</text>
<text transform="translate(86.65 931.8) scale(1 1.06)" font-size="27.7" fill="#3f3f3f" text-anchor="end">10</text>
<text transform="translate(87.15 986) scale(1 1.06)" font-size="27.7" fill="#3f3f3f" text-anchor="end">0</text>
<line x1="162.8" y1="984.3" x2="162.8" y2="987.5" stroke="#222222" stroke-width="1.5"/>
<text transform="translate(162.05 1010.1) scale(1 1.04)" font-size="27.6" fill="#3f3f3f" text-anchor="middle">CMV</text>
<line x1="279.1" y1="984.3" x2="279.1" y2="987.5" stroke="#222222" stroke-width="1.5"/>
<text transform="translate(280.7 1010.3) scale(1 1.04)" font-size="27.6" fill="#3f3f3f" text-anchor="middle">LSP</text>
<line x1="395.6" y1="984.3" x2="395.6" y2="987.5" stroke="#222222" stroke-width="1.5"/>
<text transform="translate(394.7 1011.6) scale(1 1.04)" font-size="27.6" fill="#3f3f3f" text-anchor="middle">CSP</text>
<text transform="translate(382.47 1076.1) scale(1 1.035)" font-size="40.6" fill="#000000" stroke="#000000" stroke-width="0.35">Promoter</text>
<text transform="translate(31.25 848.8) rotate(-90) scale(0.945 1)" font-size="42.3" fill="#000000" stroke="#000000" stroke-width="0.3">EI</text>
<text y="964.6" font-size="18.3" fill="#333333"><tspan x="518.13" dy="0.5" font-size="23.8" textLength="16.16" lengthAdjust="spacingAndGlyphs">α</tspan><tspan x="535.37" dy="-0.5">1C</tspan></text>
<text y="964.6" font-size="18.3" fill="#333333"><tspan x="564.03" dy="0.5" font-size="23.8" textLength="16.16" lengthAdjust="spacingAndGlyphs">α</tspan><tspan x="580.95" dy="-0.5">MHC</tspan></text>
<text x="625.5" y="964.6" font-size="18.3" fill="#333333">MLC−2v</text>
<text x="696.65" y="963.9" font-size="18.3" fill="#333333">NCX</text>
<text x="749.98" y="964.6" font-size="18.3" fill="#333333">cTnI</text>
<text x="801.43" y="964.6" font-size="18.3" fill="#333333">cTnT</text>
<rect x="978.1" y="568" width="757.2" height="93.8" fill="#d9d9d9"/>
<text transform="translate(0 634.3) scale(0.92 1)" x="1207.16 1233.33 1278.55 1323.17 1368.37 1403.37 1434.38 1452.38 1479.39 1522.05 1564.24 1582.24 1608.24 1627.64 1646.91 1681.37 1723.68" y="0" font-size="60.4" fill="#3a3a3a" stroke="#3a3a3a" stroke-width="2.6" stroke-linejoin="round">rAAV9 <tspan font-size="62.3" dy="-1.6">|</tspan><tspan dy="1.6"> Rat liver</tspan></text>
<rect x="978.46" y="680.03" width="372.74" height="304.57" fill="#ebecec"/>
<line x1="978.46" y1="951" x2="1351.2" y2="951" stroke="#fbfbfb" stroke-width="1.05"/>
<line x1="978.46" y1="893.2" x2="1351.2" y2="893.2" stroke="#fbfbfb" stroke-width="1.05"/>
<line x1="978.46" y1="835.4" x2="1351.2" y2="835.4" stroke="#fbfbfb" stroke-width="1.05"/>
<line x1="978.46" y1="777.6" x2="1351.2" y2="777.6" stroke="#fbfbfb" stroke-width="1.05"/>
<line x1="978.46" y1="719.8" x2="1351.2" y2="719.8" stroke="#fbfbfb" stroke-width="1.05"/>
<line x1="978.46" y1="979.9" x2="1351.2" y2="979.9" stroke="#ffffff" stroke-width="1.45"/>
<line x1="978.46" y1="922.1" x2="1351.2" y2="922.1" stroke="#ffffff" stroke-width="1.45"/>
<line x1="978.46" y1="864.3" x2="1351.2" y2="864.3" stroke="#ffffff" stroke-width="1.45"/>
<line x1="978.46" y1="806.5" x2="1351.2" y2="806.5" stroke="#ffffff" stroke-width="1.45"/>
<line x1="978.46" y1="748.7" x2="1351.2" y2="748.7" stroke="#ffffff" stroke-width="1.45"/>
<line x1="978.46" y1="690.9" x2="1351.2" y2="690.9" stroke="#ffffff" stroke-width="1.45"/>
<line x1="1048.1" y1="680.03" x2="1048.1" y2="984.6" stroke="#ffffff" stroke-width="1.45"/>
<line x1="1164.7" y1="680.03" x2="1164.7" y2="984.6" stroke="#ffffff" stroke-width="1.45"/>
<line x1="1281" y1="680.03" x2="1281" y2="984.6" stroke="#ffffff" stroke-width="1.45"/>
<line x1="974.66" y1="979.9" x2="978.46" y2="979.9" stroke="#222222" stroke-width="1.55"/>
<line x1="974.66" y1="922.1" x2="978.46" y2="922.1" stroke="#222222" stroke-width="1.55"/>
<line x1="974.66" y1="864.3" x2="978.46" y2="864.3" stroke="#222222" stroke-width="1.55"/>
<line x1="974.66" y1="806.5" x2="978.46" y2="806.5" stroke="#222222" stroke-width="1.55"/>
<line x1="974.66" y1="748.7" x2="978.46" y2="748.7" stroke="#222222" stroke-width="1.55"/>
<line x1="974.66" y1="690.9" x2="978.46" y2="690.9" stroke="#222222" stroke-width="1.55"/>
<line x1="1047.8" y1="723.04" x2="1281" y2="723.04" stroke="#000000" stroke-width="3.2"/>
<text transform="translate(1160.38 721.59) scale(0.87 1)" class="st" font-size="19" fill="#262626" stroke="#262626" stroke-width="0.8">*</text>
<line x1="1048.15" y1="874.3" x2="1048.15" y2="879" stroke="#ec6a6b" stroke-width="1.5"/>
<rect x="1004.3" y="856.5" width="87.7" height="17.8" fill="#ffffff" stroke="#ec6a6b" stroke-width="1.5"/>
<line x1="1004.3" y1="869.4" x2="1092" y2="869.4" stroke="#ec6a6b" stroke-width="2.7"/>
<circle cx="1048.1" cy="828" r="3.15" fill="#ec6a6b"/>
<rect x="1120.8" y="874.3" width="87.8" height="47.2" fill="#ffffff" stroke="#3fce3f" stroke-width="1.5"/>
<line x1="1120.8" y1="917.1" x2="1208.6" y2="917.1" stroke="#3fce3f" stroke-width="2.7"/>
<circle cx="1164.7" cy="758.3" r="3.15" fill="#3fce3f"/>
<line x1="1281.28" y1="865.38" x2="1281.28" y2="884" stroke="#6a9bf4" stroke-width="1.5"/>
<line x1="1281.28" y1="928" x2="1281.28" y2="938.8" stroke="#6a9bf4" stroke-width="1.5"/>
<rect x="1237.48" y="884" width="87.6" height="44" fill="#ffffff" stroke="#6a9bf4" stroke-width="1.5"/>
<line x1="1237.48" y1="908.5" x2="1325.08" y2="908.5" stroke="#6a9bf4" stroke-width="2.7"/>
<rect x="1395.75" y="701.19" width="344.45" height="240.91" fill="#ebecec"/>
<line x1="1395.75" y1="736.22" x2="1740.2" y2="736.22" stroke="#fbfbfb" stroke-width="1.05"/>
<line x1="1395.75" y1="819.98" x2="1740.2" y2="819.98" stroke="#fbfbfb" stroke-width="1.05"/>
<line x1="1395.75" y1="903.74" x2="1740.2" y2="903.74" stroke="#fbfbfb" stroke-width="1.05"/>
<line x1="1395.75" y1="778.1" x2="1740.2" y2="778.1" stroke="#ffffff" stroke-width="1.4"/>
<line x1="1395.75" y1="861.86" x2="1740.2" y2="861.86" stroke="#ffffff" stroke-width="1.4"/>
<line x1="1429" y1="701.19" x2="1429" y2="942.1" stroke="#ffffff" stroke-width="1.4"/>
<line x1="1484.5" y1="701.19" x2="1484.5" y2="942.1" stroke="#ffffff" stroke-width="1.4"/>
<line x1="1540" y1="701.19" x2="1540" y2="942.1" stroke="#ffffff" stroke-width="1.4"/>
<line x1="1595.5" y1="701.19" x2="1595.5" y2="942.1" stroke="#ffffff" stroke-width="1.4"/>
<line x1="1651.1" y1="701.19" x2="1651.1" y2="942.1" stroke="#ffffff" stroke-width="1.4"/>
<line x1="1706.5" y1="701.19" x2="1706.5" y2="942.1" stroke="#ffffff" stroke-width="1.4"/>
<line x1="1392.55" y1="778.1" x2="1395.75" y2="778.1" stroke="#222222" stroke-width="1.2"/>
<line x1="1392.55" y1="861.86" x2="1395.75" y2="861.86" stroke="#222222" stroke-width="1.2"/>
<line x1="1429" y1="942.4" x2="1429" y2="945.3" stroke="#222222" stroke-width="1.2"/>
<line x1="1484.5" y1="942.4" x2="1484.5" y2="945.3" stroke="#222222" stroke-width="1.2"/>
<line x1="1540" y1="942.4" x2="1540" y2="945.3" stroke="#222222" stroke-width="1.2"/>
<line x1="1595.5" y1="942.4" x2="1595.5" y2="945.3" stroke="#222222" stroke-width="1.2"/>
<line x1="1651.1" y1="942.4" x2="1651.1" y2="945.3" stroke="#222222" stroke-width="1.2"/>
<line x1="1706.5" y1="942.4" x2="1706.5" y2="945.3" stroke="#222222" stroke-width="1.2"/>
<text transform="translate(1390.95 785.09) scale(1 1.03)" font-size="19.6" fill="#333333" text-anchor="end">20</text>
<text transform="translate(1390.95 868.14) scale(1 1.03)" font-size="19.6" fill="#333333" text-anchor="end">10</text>
<line x1="1430.4" y1="717.3" x2="1649.2" y2="717.3" stroke="#000000" stroke-width="3.2"/>
<text transform="translate(1535.38 717.69) scale(0.87 1)" class="st" font-size="19" fill="#262626" stroke="#262626" stroke-width="0.8">*</text>
<line x1="1485.9" y1="741.3" x2="1649.2" y2="741.3" stroke="#000000" stroke-width="3.2"/>
<text transform="translate(1563.58 741.59) scale(0.87 1)" class="st" font-size="19" fill="#262626" stroke="#262626" stroke-width="0.8">*</text>
<line x1="1429.1" y1="818.9" x2="1429.1" y2="824.1" stroke="#1a148c" stroke-width="1.5"/>
<rect x="1408.2" y="794.7" width="41.8" height="24.2" fill="#ffffff" stroke="#1a148c" stroke-width="1.5"/>
<line x1="1408.2" y1="805.8" x2="1450" y2="805.8" stroke="#1a148c" stroke-width="2.7"/>
<line x1="1484.5" y1="779.6" x2="1484.5" y2="781.4" stroke="#4a84b4" stroke-width="1.5"/>
<line x1="1484.5" y1="815.6" x2="1484.5" y2="863.1" stroke="#4a84b4" stroke-width="1.5"/>
<rect x="1463.6" y="781.4" width="41.8" height="34.2" fill="#ffffff" stroke="#4a84b4" stroke-width="1.5"/>
<line x1="1463.6" y1="790.9" x2="1505.4" y2="790.9" stroke="#4a84b4" stroke-width="2.7"/>
<line x1="1540.05" y1="871.6" x2="1540.05" y2="873.4" stroke="#90d8e8" stroke-width="1.5"/>
<rect x="1519.15" y="867.8" width="41.8" height="3.8" fill="#90d8e8" stroke="#90d8e8" stroke-width="1.5"/>
<line x1="1595.55" y1="784.2" x2="1595.55" y2="802.2" stroke="#2a08f8" stroke-width="1.5"/>
<line x1="1595.55" y1="846.2" x2="1595.55" y2="882.2" stroke="#2a08f8" stroke-width="1.5"/>
<rect x="1574.65" y="802.2" width="41.8" height="44" fill="#ffffff" stroke="#2a08f8" stroke-width="1.5"/>
<line x1="1574.65" y1="821.5" x2="1616.45" y2="821.5" stroke="#2a08f8" stroke-width="2.7"/>
<line x1="1651.15" y1="870.1" x2="1651.15" y2="874.2" stroke="#4a6cf0" stroke-width="1.5"/>
<rect x="1630.25" y="874.2" width="41.8" height="11.3" fill="#ffffff" stroke="#4a6cf0" stroke-width="1.5"/>
<line x1="1630.25" y1="880.4" x2="1672.05" y2="880.4" stroke="#4a6cf0" stroke-width="2.7"/>
<line x1="1706.55" y1="849" x2="1706.55" y2="857.2" stroke="#5ed0fa" stroke-width="1.5"/>
<rect x="1685.65" y="837.4" width="41.8" height="11.6" fill="#ffffff" stroke="#5ed0fa" stroke-width="1.5"/>
<line x1="1685.65" y1="842.1" x2="1727.45" y2="842.1" stroke="#5ed0fa" stroke-width="2.7"/>
<path d="M1233.91 858.36H1245.51M1251.07 858.36H1262.67M1268.23 858.36H1279.83M1285.39 858.36H1296.99M1302.55 858.36H1314.15M1319.71 858.36H1331.31M1235.36 971.8H1246.86M1252.52 971.8H1264.02M1269.68 971.8H1281.18M1286.84 971.8H1298.34M1304 971.8H1315.5M1321.16 971.8H1332.46M1231.46 858.16V869.36M1231.46 875.32V886.52M1231.46 892.48V903.68M1231.46 909.64V920.84M1231.46 926.8V938M1231.46 943.96V955.16M1231.46 961.12V972.32M1330.86 860.56V871.86M1330.86 877.72V889.02M1330.86 894.88V906.18M1330.86 912.04V923.34M1330.86 929.2V940.5M1330.86 946.36V957.66M1330.86 963.52V973.4M1321.06 971.8H1332.46M1231.46 960.6V973.4M1330.86 962.1V973.4" fill="none" stroke="#000000" stroke-width="3.1"/>
<path d="M1369.2 690.27H1380.4M1386.36 690.27H1397.56M1403.52 690.27H1414.72M1420.68 690.27H1431.88M1437.84 690.27H1449.04M1455 690.27H1466.2M1472.16 690.27H1483.36M1489.32 690.27H1500.52M1506.48 690.27H1517.68M1523.64 690.27H1534.84M1540.8 690.27H1552M1557.96 690.27H1569.16M1575.12 690.27H1586.32M1592.28 690.27H1603.48M1609.44 690.27H1620.64M1626.6 690.27H1637.8M1643.76 690.27H1654.96M1660.92 690.27H1672.12M1678.08 690.27H1689.28M1695.24 690.27H1706.44M1712.4 690.27H1723.6M1729.56 690.27H1740.76M1360.15 974.6H1371.35M1377.31 974.6H1388.51M1394.47 974.6H1405.67M1411.63 974.6H1422.83M1428.79 974.6H1439.99M1445.95 974.6H1457.15M1463.11 974.6H1474.31M1480.27 974.6H1491.47M1497.43 974.6H1508.63M1514.59 974.6H1525.79M1531.75 974.6H1542.95M1548.91 974.6H1560.11M1566.07 974.6H1577.27M1583.23 974.6H1594.43M1600.39 974.6H1611.59M1617.55 974.6H1628.75M1634.71 974.6H1645.91M1651.87 974.6H1663.07M1669.03 974.6H1680.23M1686.19 974.6H1697.39M1703.35 974.6H1714.55M1720.51 974.6H1731.71M1737.67 974.6H1748.87M1360.95 694.27V696.21M1360.95 702.27V713.37M1360.95 719.43V730.53M1360.95 736.59V747.69M1360.95 753.75V764.85M1360.95 770.91V782.01M1360.95 788.07V799.17M1360.95 805.23V816.33M1360.95 822.39V833.49M1360.95 839.55V850.65M1360.95 856.71V867.81M1360.95 873.87V884.97M1360.95 891.03V902.13M1360.95 908.19V919.29M1360.95 925.35V936.45M1360.95 942.51V953.61M1360.95 959.67V970.77M1747.3 688.67V698.07M1747.3 704.13V715.23M1747.3 721.29V732.39M1747.3 738.45V749.55M1747.3 755.61V766.71M1747.3 772.77V783.87M1747.3 789.93V801.03M1747.3 807.09V818.19M1747.3 824.25V835.35M1747.3 841.41V852.51M1747.3 858.57V869.67M1747.3 875.73V886.83M1747.3 892.89V903.99M1747.3 910.05V921.15M1747.3 927.21V938.31M1747.3 944.37V955.47M1747.3 961.53V972.63M1359.35 974.6H1371.55M1737.3 974.6H1748.9M1360.95 960.1V976.2M1747.3 966.3V976.2M1360.95 688.67V696.47" fill="none" stroke="#000000" stroke-width="3.1"/>
<path d="M1317.8,960.1 C1334.8,962.7 1348.8,954.7 1360,943.9 L1352.6,935.6 L1380.1,935.25 L1380.4,962.9 L1373.2,956 C1360.3,967.7 1336.3,973.2 1317.8,960.1 Z" fill="#000000"/>
<rect x="1261.3" y="952.6" width="1.3" height="0.8" fill="#555"/>
<text transform="translate(973.35 699.67) scale(1 1.06)" font-size="27.7" fill="#3f3f3f" text-anchor="end">50</text>
<text transform="translate(973.35 758.05) scale(1 1.06)" font-size="27.7" fill="#3f3f3f" text-anchor="end">40</text>
<text transform="translate(973.25 816.1) scale(1 1.06)" font-size="27.7" fill="#3f3f3f" text-anchor="end">30</text>
<text transform="translate(971.65 874.4) scale(1 1.06)" font-size="27.7" fill="#3f3f3f" text-anchor="end">20</text>
<text transform="translate(971.65 931.8) scale(1 1.06)" font-size="27.7" fill="#3f3f3f" text-anchor="end">10</text>
<text transform="translate(972.15 986) scale(1 1.06)" font-size="27.7" fill="#3f3f3f" text-anchor="end">0</text>
<line x1="1047.8" y1="985" x2="1047.8" y2="988.6" stroke="#222222" stroke-width="1.5"/>
<text transform="translate(1047.05 1010.1) scale(1 1.04)" font-size="27.6" fill="#3f3f3f" text-anchor="middle">CMV</text>
<line x1="1164.1" y1="985" x2="1164.1" y2="988.6" stroke="#222222" stroke-width="1.5"/>
<text transform="translate(1165.7 1010.3) scale(1 1.04)" font-size="27.6" fill="#3f3f3f" text-anchor="middle">LSP</text>
<line x1="1280.6" y1="985" x2="1280.6" y2="988.6" stroke="#222222" stroke-width="1.5"/>
<text transform="translate(1279.7 1011.6) scale(1 1.04)" font-size="27.6" fill="#3f3f3f" text-anchor="middle">CSP</text>
<text transform="translate(1267.47 1075.9) scale(1 1.035)" font-size="40.6" fill="#000000" stroke="#000000" stroke-width="0.35">Promoter</text>
<text transform="translate(916.25 848.8) rotate(-90) scale(0.945 1)" font-size="42.3" fill="#000000" stroke="#000000" stroke-width="0.3">EI</text>
<text y="962.05" font-size="18.3" fill="#333333"><tspan x="1401.1" dy="0.5" font-size="23.8" textLength="16.16" lengthAdjust="spacingAndGlyphs">α</tspan><tspan x="1418.34" dy="-0.5">1C</tspan></text>
<text y="962.05" font-size="18.3" fill="#333333"><tspan x="1447" dy="0.5" font-size="23.8" textLength="16.16" lengthAdjust="spacingAndGlyphs">α</tspan><tspan x="1463.92" dy="-0.5">MHC</tspan></text>
<text x="1508.47" y="962.05" font-size="18.3" fill="#333333">MLC−2v</text>
<text x="1579.62" y="961.35" font-size="18.3" fill="#333333">NCX</text>
<text x="1632.95" y="962.05" font-size="18.3" fill="#333333">cTnI</text>
<text x="1684.4" y="962.05" font-size="18.3" fill="#333333">cTnT</text>
</svg>
</body></html>
